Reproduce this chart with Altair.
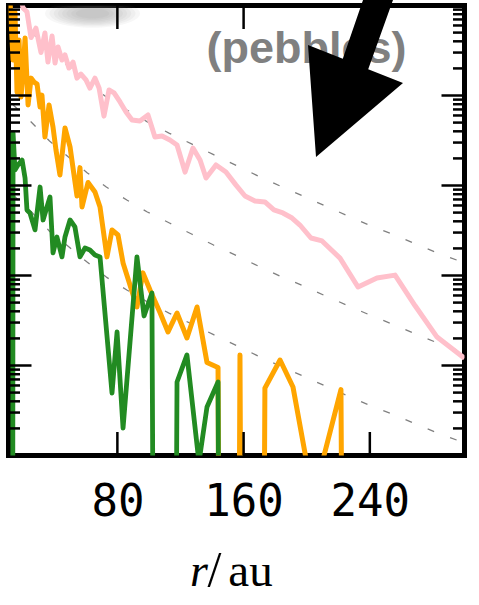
import altair as alt
import pandas as pd

# plot area in pixels
W, H = 456, 450

# radial profiles (r in au); zeros are empty bins
pink_r = [15.1, 20.2, 22.7, 25.3, 28.4, 31.6, 34.1, 36.0, 38.6, 40.5, 42.4, 44.9, 46.8, 49.3,
          51.9, 54.4, 56.9, 60.1, 62.6, 65.8, 68.4, 71.5, 74.7, 77.9, 81.7, 85.5, 89.3, 94.3,
          99.4, 103.8, 108.3, 113.3, 117.8, 122.9, 127.9, 132.4, 136.2, 142.5, 148.8, 155.2,
          160.9, 167.2, 173.5, 179.2, 184.9, 190.7, 195.7, 202.7, 209.7, 221.1, 232.5, 244.5,
          256.0, 268.6, 282.6, 300.0]
pink_v = [250, 94, 85, 44, 56, 30, 49.5, 23.5, 45.8, 23.0, 34.6, 24.8, 28.2, 20.2,
          23.5, 15.6, 17.3, 14.9, 12.1, 15.6, 12.1, 5.9, 11.5, 10.7, 8.47, 6.56, 5.34, 5.21,
          6.07, 3.46, 3.55, 3.2, 2.82, 1.41, 2.61, 1.92, 1.21, 1.69, 1.41, 1.01,
          0.764, 0.673, 0.656, 0.535, 0.495, 0.435, 0.364, 0.261, 0.242, 0.156, 0.0745, 0.0938,
          0.101, 0.0464, 0.0207, 0.0120]

orange_r = [11.3, 13.9, 15.1, 16.4, 17.7, 18.9, 20.2, 21.5, 23.4, 25.3, 27.2, 29.1, 31.0, 32.2,
            34.1, 36.7, 39.2, 41.1, 43.6, 46.8, 50.0, 54.4, 56.3, 57.6, 61.4, 65.8, 69.0, 73.4,
            76.6, 80.4, 83.6, 92.4, 96.2, 100.7, 107.0, 112.1, 117.8, 124.1, 130.5, 136.8,
            143.8, 150.7, 157.7, 165.3, 173.5, 183.1, 191.3, 200.8, 210.3, 221.7, 231.3, 246.5,
            265.5, 284.5, 300.0]
orange_v = [192, 24.8, 84.7, 10.9, 41.4, 9.6, 17.8, 43.6, 7.84, 15.6, 14.1, 13.4, 7.45, 10.1,
            3.46, 7.84, 4.47, 2.48, 1.31, 4.36, 2.68, 0.764, 1.58, 0.577, 1.08, 0.847, 0.577, 0.161,
            0.320, 0.282, 0.138, 0.0447, 0.107, 0.069, 0.0388, 0.0236, 0.0383, 0.0202, 0.0447, 0.0108,
            0.0095, 0, 0.0131, 0, 0.0056, 0.0115, 0.00577, 0.0007, 0.0009, 0.0054, 0, 0,
            0, 0, 0]

green_r = [12.5, 13.9, 15.1, 17.0, 19.6, 21.5, 22.7, 24.6, 27.8, 31.0, 32.9, 37.3, 39.2, 41.7,
           44.9, 46.8, 50.0, 53.1, 56.3, 59.5, 62.6, 65.8, 69.0, 76.6, 79.8, 83.6, 92.4, 96.9,
           101.9, 109.5, 117.8, 124.1, 131.7, 136.8, 143.8, 150.7, 165.3, 190.0, 230.0, 270.0, 300.0]
green_v = [0, 3.83, 1.49, 1.69, 1.92, 1.21, 0.535, 0.495, 0.321, 0.962, 0.414, 0.745, 0.178, 0.268,
           0.161, 0.268, 0.414, 0.346, 0.161, 0.202, 0.192, 0.169, 0.161, 0.00495, 0.0236, 0.00202,
           0.161, 0.0355, 0.064, 0, 0.00656, 0.0131, 0.00084, 0.00346, 0.00656, 0, 0, 0, 0, 0, 0]

# reference slopes, one decade apart
ref_r = [14, 26, 37, 49, 61, 73, 86, 99, 113, 127, 141, 156, 169, 183, 198, 212, 226, 240,
         255, 269, 283, 300]
ref1_v = [78, 50, 31, 21, 14, 9.6, 6.9, 5.1, 3.8, 2.9, 2.2, 1.65, 1.28, 0.99, 0.76, 0.59, 0.46,
          0.36, 0.285, 0.224, 0.178, 0.138]
ref2_v = [7.84, 4.95, 3.12, 2.07, 1.38, 0.962, 0.690, 0.508, 0.383, 0.289, 0.218, 0.165, 0.128,
          0.0987, 0.0764, 0.0592, 0.0464, 0.0364, 0.0285, 0.0224, 0.0178, 0.0138]
ref3_v = [0.78, 0.50, 0.31, 0.21, 0.14, 0.096, 0.069, 0.051, 0.038, 0.029, 0.022, 0.0165, 0.0128,
          0.0099, 0.0076, 0.0059, 0.0046, 0.0036, 0.00285, 0.00224, 0.00178, 0.00138]

# axis ticks
x_ticks = [80, 160, 240]
y_major = [1e-2, 1e-1, 1e0, 1e1]
y_decades = [1e-3, 1e-2, 1e-1, 1e0, 1e1]
y_mult = [2, 3, 4, 5, 6, 7, 8, 9]
y_minor = [m * d for d in y_decades for m in y_mult]

label_text = ["(pebbles)"]
x_title = ["r", "/", "au"]

ARROW = ("M -0.395 0.93 L -0.475 -0.19 L -0.127 -0.053 L 0.213 -1.04 "
         "L 0.518 -1.04 L 0.127 0.053 L 0.475 0.19 Z")
ELLIPSE = "M -1 0 A 1 0.3 0 1 0 1 0 A 1 0.3 0 1 0 -1 0 Z"

x_scale = alt.Scale(domain=[11, 300], nice=False, zero=False)
y_scale = alt.Scale(type="log", domain=[1e-3, 1e2], nice=False)

x_axis = alt.Axis(values=x_ticks, ticks=False, tickSize=0, domain=False, grid=False,
                  labelFont="DejaVu Sans Mono", labelFontSize=44, labelColor="black",
                  labelPadding=25, labelFlush=False, title=None)


def table(r, v):
    assert len(r) == len(v)
    return pd.DataFrame({"r": r, "v": v, "i": list(range(len(r)))})


def curve(r, v, color, width, dash=None):
    opts = dict(clip=True, color=color, strokeWidth=width, strokeJoin="round")
    if dash:
        opts["strokeDash"] = dash
    return (
        alt.Chart(table(r, v))
        .transform_calculate(vp="max(datum.v, 1e-30)")
        .mark_line(**opts)
        .encode(
            x=alt.X("r:Q", scale=x_scale, axis=x_axis),
            y=alt.Y("vp:Q", scale=y_scale, axis=None),
            order="i:Q",
        )
    )


def yticks(vals, x0, x1):
    return alt.Chart(pd.DataFrame({"t": vals})).mark_rule(color="black", strokeWidth=2.5).encode(
        y=alt.Y("t:Q", scale=y_scale, axis=None), x=alt.value(x0), x2=alt.value(x1))


def xticks(y0, y1):
    return alt.Chart(pd.DataFrame({"t": x_ticks})).mark_rule(color="black", strokeWidth=2.5).encode(
        x=alt.X("t:Q", scale=x_scale, axis=x_axis), y=alt.value(y0), y2=alt.value(y1))


def word(t, x, size, style="normal"):
    return alt.Chart(pd.DataFrame({"t": [t]})).mark_text(
        font="Liberation Serif", fontStyle=style, fontSize=size, color="black",
        align="center", baseline="alphabetic").encode(
        text="t:N", x=alt.value(x), y=alt.value(580.5))


# soft grey smudge near the top edge, built from stacked faint ellipses
smudge = [
    alt.Chart(pd.DataFrame({"a": [0]})).mark_point(
        shape=ELLIPSE, size=s, filled=True, color="#777777", opacity=0.06,
        strokeWidth=0, clip=True).encode(x=alt.value(84), y=alt.value(8))
    for s in [9000, 7400, 6000, 4800, 3700, 2700, 1800, 1100]
]

dash = [7, 17]
layers = smudge + [
    curve(ref_r, ref1_v, "#808080", 1.3, dash),
    curve(ref_r, ref2_v, "#808080", 1.3, dash),
    curve(ref_r, ref3_v, "#808080", 1.3, dash),
    curve(pink_r, pink_v, "#FFC0CB", 5),
    curve(orange_r, orange_v, "#FFA500", 5),
    curve(green_r, green_v, "#228B22", 4.8),
    alt.Chart(pd.DataFrame({"t": label_text})).mark_text(
        font="Liberation Sans", fontWeight="bold", fontSize=45, color="#808080",
        align="center", baseline="alphabetic").encode(
        text="t:N", x=alt.value(298), y=alt.value(57.5)),
    alt.Chart(pd.DataFrame({"a": [0]})).mark_point(
        shape=ARROW, size=40000, filled=True, color="black", opacity=1, strokeWidth=0).encode(
        x=alt.value(347), y=alt.value(58.5)),
    yticks(y_major, 0, 23), yticks(y_minor, 0, 11.5),
    yticks(y_major, W, W - 23), yticks(y_minor, W, W - 11.5),
    xticks(H, H - 23.5), xticks(0, 23.5),
    word(x_title[0], 190.5, 46, "italic"),
    word(x_title[1], 206, 50),
    word(x_title[2], 242, 47),
]

chart = (
    alt.layer(*layers)
    .properties(
        width=W, height=H,
        padding={"left": 8.5, "top": 5.5, "right": 14.5, "bottom": 149.5},
        autosize=alt.AutoSizeParams(type="none"),
        background="white",
    )
    .configure_view(stroke="black", strokeWidth=5)
)

chart.save("out.html", embed_options={"renderer": "svg", "actions": False})
